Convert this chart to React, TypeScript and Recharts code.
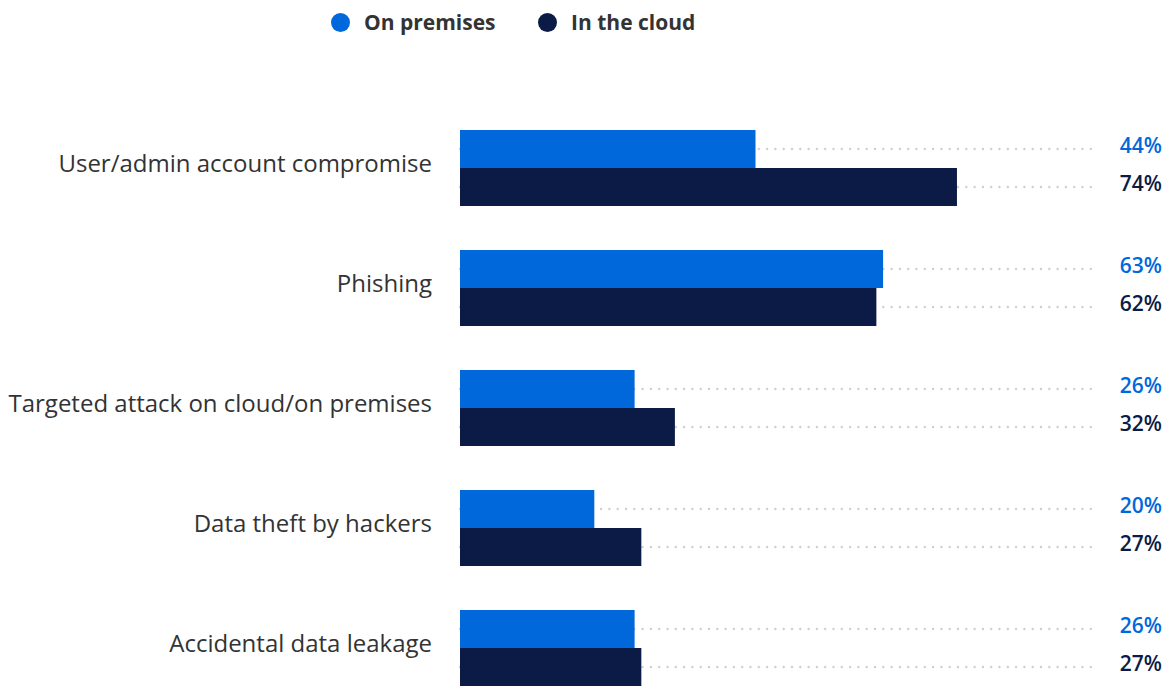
import { BarChart, Bar, XAxis, YAxis, LabelList } from "recharts"

const categories = [
  "User/admin account compromise",
  "Phishing",
  "Targeted attack on cloud/on premises",
  "Data theft by hackers",
  "Accidental data leakage",
]
const onPremises = [44, 63, 26, 20, 26]
const inTheCloud = [74, 62, 32, 27, 27]

const data = categories.map((name, i) => ({
  name,
  onPremises: onPremises[i],
  inTheCloud: inTheCloud[i],
}))

const BLUE = "#0068db"
const NAVY = "#0b1b45"
const FONT = "'Open Sans', sans-serif"

const DottedBg = (props: any) => {
  const { x, y, width, height } = props
  const cy = y + height / 2
  return (
    <line
      x1={x}
      x2={x + width}
      y1={cy}
      y2={cy}
      stroke="#cfcfcf"
      strokeWidth={2.4}
      strokeLinecap="round"
      strokeDasharray="0 8.3"
    />
  )
}

const valueLabel = (color: string) => (props: any) => {
  const { y, height, value } = props
  return (
    <text
      x={1162}
      y={y + height / 2 - 4}
      textAnchor="end"
      dominantBaseline="central"
      fill={color}
      fontSize={21}
      fontWeight={600}
      fontFamily={FONT}
    >
      {value}%
    </text>
  )
}

function LegendItem({ color, label, left }: { color: string; label: string; left: number }) {
  return (
    <div style={{ position: "absolute", left, top: 8, display: "flex", alignItems: "center" }}>
      <span style={{ width: 19, height: 19, borderRadius: "50%", background: color, display: "inline-block" }} />
      <span style={{ marginLeft: 14, fontSize: 21, fontWeight: 700, color: "#333", fontFamily: FONT }}>
        {label}
      </span>
    </div>
  )
}

export default function App() {
  return (
    <div style={{ position: "absolute", left: 0, top: 0, width: 1170, height: 708, background: "#fff" }}>
      <LegendItem color={BLUE} label="On premises" left={331} />
      <LegendItem color={NAVY} label="In the cloud" left={538} />
      <BarChart
        width={1170}
        height={708}
        data={data}
        layout="vertical"
        margin={{ top: 108, right: 72, bottom: 0, left: 0 }}
        barGap={0}
      >
        <XAxis type="number" domain={[0, 95]} hide />
        <YAxis
          type="category"
          dataKey="name"
          width={460}
          axisLine={false}
          tickLine={false}
          tickSize={0}
          tickMargin={28}
          tick={{ fontSize: 24, fill: "#333", fontFamily: FONT, dy: -5 }}
        />
        <Bar dataKey="onPremises" fill={BLUE} barSize={38} background={<DottedBg />} isAnimationActive={false}>
          <LabelList dataKey="onPremises" content={valueLabel(BLUE)} />
        </Bar>
        <Bar dataKey="inTheCloud" fill={NAVY} barSize={38} background={<DottedBg />} isAnimationActive={false}>
          <LabelList dataKey="inTheCloud" content={valueLabel(NAVY)} />
        </Bar>
      </BarChart>
    </div>
  )
}
